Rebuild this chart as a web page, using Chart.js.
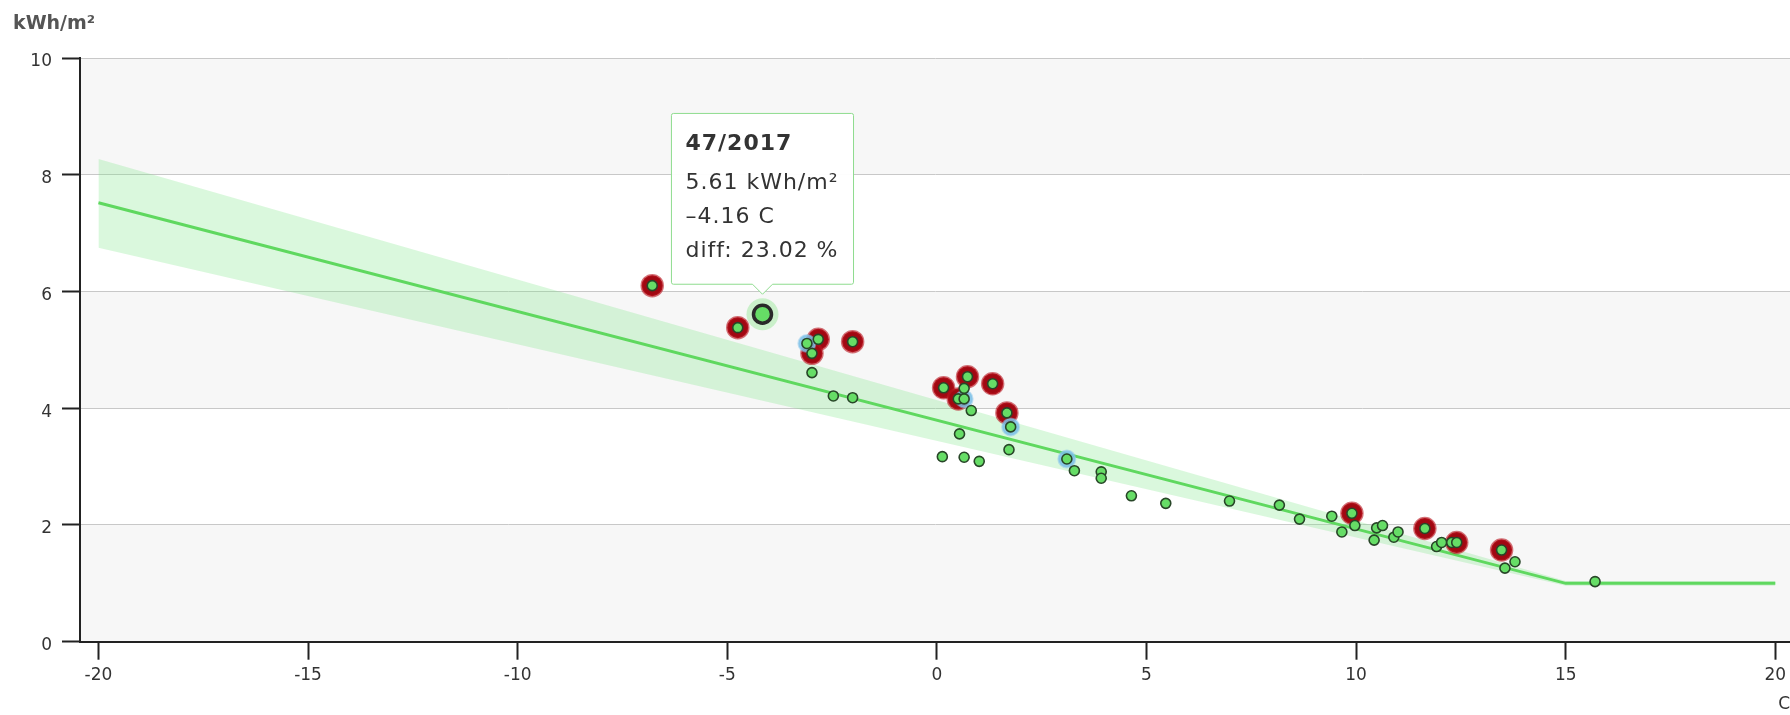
<!DOCTYPE html>
<html><head><meta charset="utf-8">
<script src="https://cdn.jsdelivr.net/npm/chart.js@4.4.0/dist/chart.umd.min.js"></script>
<style>html,body{margin:0;padding:0;background:#fff;} #wrap{width:1790px;height:715px;position:relative;}</style>
</head><body><div id="wrap"><canvas id="c"></canvas></div>
<script>
// ---- data ----
const yUnit = 'kWh/m²';
const xUnit = 'C';
const yTicks = [0, 2, 4, 6, 8, 10];
const xTicks = [-20, -15, -10, -5, 0, 5, 10, 15, 20];
const weekTemp = [-6.79, -4.75, -3.10, -2.83, -2.98, -2.01, -2.98, -2.47, -2.01, 0.16,
  0.73, 0.65, 0.51, 0.65, 0.82, 1.33, 1.67, 1.76, 0.54, 1.72,
  0.13, 0.65, 1.01, 3.10, 3.28, 3.92, 3.92, 4.64, 5.46, 6.98,
  8.17, 8.65, 9.42, 9.90, 9.97, 9.66, 10.49, 10.63, 10.43, 10.90,
  11.00, 11.64, 11.92, 12.04, 12.28, 12.40, 13.47, 13.79, 13.55, 15.70];
const weekEnergy = [6.10, 5.38, 5.11, 5.18, 4.94, 5.14, 4.61, 4.21, 4.18, 4.35,
  4.54, 4.34, 4.16, 4.16, 3.96, 4.42, 3.92, 3.68, 3.56, 3.29,
  3.17, 3.16, 3.09, 3.13, 2.93, 2.91, 2.80, 2.50, 2.37, 2.41,
  2.34, 2.10, 2.15, 2.20, 1.99, 1.88, 1.95, 1.99, 1.74, 1.79,
  1.88, 1.94, 1.63, 1.70, 1.70, 1.70, 1.57, 1.37, 1.26, 1.03];
// 1 = over model (red ring), 2 = flagged (blue ring), 0 = none
const ringType = [1, 1, 2, 1, 1, 1, 0, 0, 0, 1,
  1, 0, 1, 2, 0, 1, 1, 2, 0, 0,
  0, 0, 0, 2, 0, 0, 0, 0, 0, 0,
  0, 0, 0, 1, 0, 0, 0, 0, 0, 0,
  0, 1, 0, 0, 0, 1, 1, 0, 0, 0];
const modelTemp = [-20, 15, 20];
const modelEnergy = [7.52, 1.0, 1.0];
const bandUpper = [8.27, 1.04, 1.04];
const bandLower = [6.75, 0.96, 0.96];
const selWeek = '47/2017';
const selTemp = -4.16;
const selEnergy = 5.61;
const selDiff = 23.02;

// ---- build ----
const pts = (xs, ys) => xs.map((x, i) => ({x, y: ys[i]}));
const allPts = pts(weekTemp, weekEnergy);
const redPts = allPts.filter((p, i) => ringType[i] === 1);
const bluePts = allPts.filter((p, i) => ringType[i] === 2);
const selPt = [{x: selTemp, y: selEnergy}];
const fmt = v => v.toFixed(2).replace('-', '–');

Chart.defaults.font.family = 'DejaVu Sans';

const bgPlugin = {
  id: 'bg',
  beforeDraw(chart) {
    const {ctx, chartArea: a, scales: {y}} = chart;
    ctx.save();
    for (let i = 0; i < yTicks.length - 1; i++) {
      const top = y.getPixelForValue(yTicks[i + 1]);
      const bot = y.getPixelForValue(yTicks[i]);
      ctx.fillStyle = i % 2 === 0 ? '#f7f7f7' : '#ffffff';
      ctx.fillRect(a.left, top, a.right - a.left, bot - top);
    }
    ctx.restore();
  },
  beforeTooltipDraw(chart) {
    chart.ctx.letterSpacing = '1px';
  },
  afterTooltipDraw(chart) {
    chart.ctx.letterSpacing = '0px';
  },
  afterDraw(chart) {
    const ctx = chart.ctx;
    ctx.save();
    ctx.letterSpacing = '0px';
    ctx.font = 'bold 19px "DejaVu Sans"';
    ctx.fillStyle = '#555';
    ctx.textBaseline = 'alphabetic';
    ctx.textAlign = 'left';
    ctx.fillText(yUnit, 13, 29);
    ctx.restore();
  }
};

const greenDot = '#66dd66';
const chart = new Chart(document.getElementById('c'), {
  type: 'scatter',
  data: {
    datasets: [
      {label: 'sel', data: selPt, pointRadius: 9, pointHoverRadius: 9, backgroundColor: greenDot,
        borderColor: '#2a2a2a', borderWidth: 3.5, pointHoverBorderWidth: 3.5, hoverBorderColor: '#2a2a2a', hoverBackgroundColor: greenDot},
      {label: 'weeks', data: allPts, pointRadius: 5, backgroundColor: greenDot, borderColor: '#284628', borderWidth: 1.6},
      {label: 'flag', data: bluePts, pointRadius: 8.5, backgroundColor: 'rgba(120,190,230,0.85)', borderColor: 'rgba(140,200,235,0.5)', borderWidth: 2},
      {label: 'over', data: redPts, pointRadius: 10.5, backgroundColor: '#a00812', borderColor: 'rgba(185,20,30,0.6)', borderWidth: 2.5},
      {label: 'halo', data: selPt, pointRadius: 16, backgroundColor: 'rgba(130,228,130,0.38)', borderWidth: 0},
      {label: 'model', type: 'line', data: pts(modelTemp, modelEnergy), showLine: true, borderColor: '#5fd85f', borderWidth: 3, pointRadius: 0, fill: false, tension: 0},
      {label: 'upper', type: 'line', data: pts(modelTemp, bandUpper), showLine: true, borderWidth: 0, borderColor: 'rgba(0,0,0,0)', pointRadius: 0, fill: '+1', backgroundColor: 'rgba(120,230,130,0.27)', tension: 0},
      {label: 'lower', type: 'line', data: pts(modelTemp, bandLower), showLine: true, borderWidth: 0, borderColor: 'rgba(0,0,0,0)', pointRadius: 0, fill: false, tension: 0}
    ]
  },
  options: {
    responsive: true,
    maintainAspectRatio: false,
    animation: false,
    events: [],
    layout: {autoPadding: false, padding: {top: 58, right: 0, bottom: 0, left: 0}},
    scales: {
      x: {
        type: 'linear', min: -20.44, max: 20.35,
        afterBuildTicks: s => { s.ticks = xTicks.map(v => ({value: v})); },
        afterFit: s => { s.height = 73.3; s.paddingLeft = 0; s.paddingRight = 0; },
        grid: {drawOnChartArea: false, drawTicks: true, tickLength: 18, tickColor: '#222', tickWidth: 2},
        border: {color: '#222', width: 2},
        ticks: {font: {size: 17}, color: '#333', padding: 6, maxRotation: 0},
        title: {display: true, text: xUnit, align: 'end', font: {size: 17}, color: '#333', padding: 0}
      },
      y: {
        type: 'linear', min: 0, max: 10,
        afterBuildTicks: s => { s.ticks = yTicks.map(v => ({value: v})); },
        afterFit: s => { s.width = 80; },
        grid: {color: '#c8c8c8', lineWidth: 1, tickLength: 18, tickColor: '#222', tickWidth: 2},
        border: {color: '#222', width: 2},
        ticks: {font: {size: 17}, color: '#333', padding: 10, labelOffset: 4}
      }
    },
    plugins: {
      legend: {display: false},
      tooltip: {
        enabled: true,
        animation: false,
        yAlign: 'bottom',
        xAlign: 'center',
        backgroundColor: 'rgba(255,255,255,0.96)',
        borderColor: '#8fdc8f',
        borderWidth: 1,
        cornerRadius: 2,
        caretSize: 10,
        caretPadding: 20,
        displayColors: false,
        titleColor: '#333',
        bodyColor: '#333',
        titleFont: {size: 22, weight: 'bold'},
        bodyFont: {size: 22},
        titleMarginBottom: 12,
        bodySpacing: 7.6,
        padding: {top: 18, bottom: 20, left: 14, right: 26},
        filter: item => item.datasetIndex === 0,
        callbacks: {
          title: () => selWeek,
          label: c => [`${fmt(c.parsed.y)} ${yUnit}`, `${fmt(c.parsed.x)} ${xUnit}`, `diff: ${selDiff.toFixed(2)} %`]
        }
      }
    }
  },
  plugins: [bgPlugin]
});
chart.tooltip.setActiveElements([{datasetIndex: 0, index: 0}], {x: 0, y: 0});
chart.update();
</script></body></html>
